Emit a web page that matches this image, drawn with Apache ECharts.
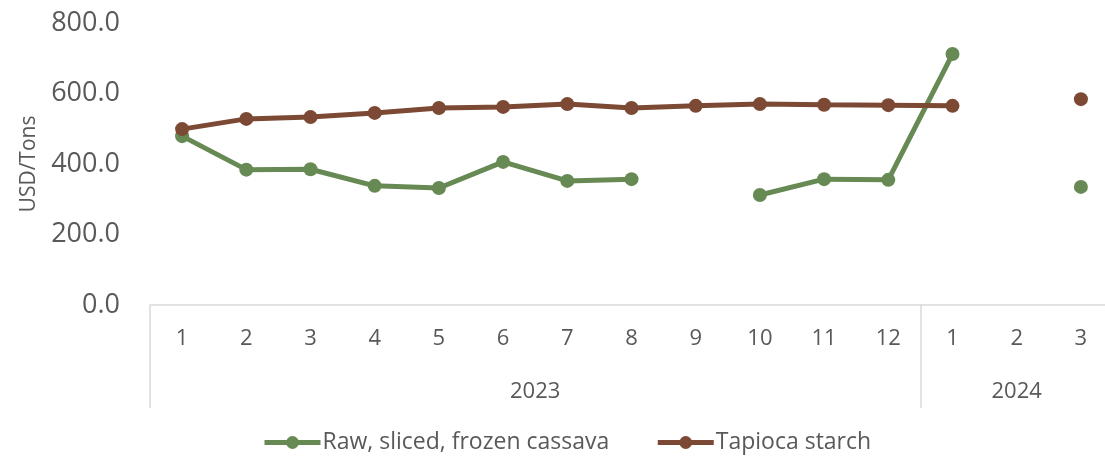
<!DOCTYPE html>
<html>
<head>
<meta charset="utf-8">
<script src="https://cdn.jsdelivr.net/npm/echarts@6/dist/echarts.min.js"></script>
<style>html,body{margin:0;padding:0;background:#fff}#c{width:1105px;height:459px}</style>
</head>
<body>
<div id="c"></div>
<script>
const months = ['1','2','3','4','5','6','7','8','9','10','11','12','1','2','3'];
const years = ['2023','2024'];
const monthsPerYear = [12, 3];
const cassava = [479, 384, 385, 338, 332, 406, 352, 357, null, 312, 357, 355, 712, null, 335];
const tapioca = [499, 528, 533, 545, 559, 562, 570, 559, 565, 570, 568, 567, 565, null, 584];
const yTicks = [0, 200, 400, 600, 800];

// year boundaries and centres (in category units) derived from the data
const bounds = [0];
monthsPerYear.forEach(n => bounds.push(bounds[bounds.length - 1] + n));
const centres = monthsPerYear.map((n, i) => bounds[i] + n / 2);

const FONT = '"Open Sans", "Noto Sans", sans-serif';
const chart = echarts.init(document.getElementById('c'));
chart.setOption({
  animation: false,
  textStyle: { fontFamily: FONT },
  grid: { left: 150, width: 963, top: 23, bottom: 154, outerBoundsMode: 'none', containLabel: false },
  legend: {
    bottom: 0,
    left: 257,
    itemWidth: 56,
    itemHeight: 16,
    itemGap: 46,
    lineStyle: { width: 5 },
    textStyle: { fontSize: 23, color: '#595959', fontFamily: FONT, padding: [0, 0, 0, -3] },
    data: [
      { name: 'Raw, sliced, frozen cassava', lineStyle: { width: 5 } },
      { name: 'Tapioca starch', lineStyle: { width: 5 } }
    ]
  },
  xAxis: [
    {
      type: 'category',
      data: months,
      boundaryGap: true,
      axisLine: { show: true, lineStyle: { color: '#d9d9d9', width: 1.5 } },
      axisTick: { show: false },
      axisLabel: { color: '#595959', fontSize: 22, margin: 23, interval: 0 },
      splitLine: { show: false }
    },
    {
      type: 'value',
      min: 0,
      max: months.length,
      position: 'bottom',
      axisLine: { show: false },
      splitLine: { show: false },
      axisTick: { show: true, length: 103, customValues: bounds, lineStyle: { color: '#d9d9d9', width: 1.5 } },
      axisLabel: {
        customValues: centres,
        color: '#595959', fontSize: 22, margin: 76,
        formatter: v => { const i = centres.indexOf(v); return i >= 0 ? years[i] : ''; }
      }
    }
  ],
  yAxis: {
    type: 'value',
    min: yTicks[0],
    max: yTicks[yTicks.length - 1],
    interval: 200,
    name: 'USD/Tons',
    nameLocation: 'middle',
    nameGap: 110,
    nameTextStyle: { fontSize: 21, color: '#595959' },
    axisLine: { show: false },
    axisTick: { show: false },
    splitLine: { show: false },
    axisLabel: { color: '#595959', fontSize: 27, margin: 30, formatter: v => v.toFixed(1) }
  },
  series: [
    {
      name: 'Raw, sliced, frozen cassava',
      type: 'line',
      xAxisIndex: 0,
      data: cassava,
      symbol: 'circle',
      symbolSize: 14,
      showAllSymbol: true,
      connectNulls: false,
      lineStyle: { width: 5, color: '#678a55' },
      itemStyle: { color: '#678a55' }
    },
    {
      name: 'Tapioca starch',
      type: 'line',
      xAxisIndex: 0,
      data: tapioca,
      symbol: 'circle',
      symbolSize: 14,
      showAllSymbol: true,
      connectNulls: false,
      lineStyle: { width: 5, color: '#7b4934' },
      itemStyle: { color: '#7b4934' }
    }
  ]
});
</script>
</body>
</html>
